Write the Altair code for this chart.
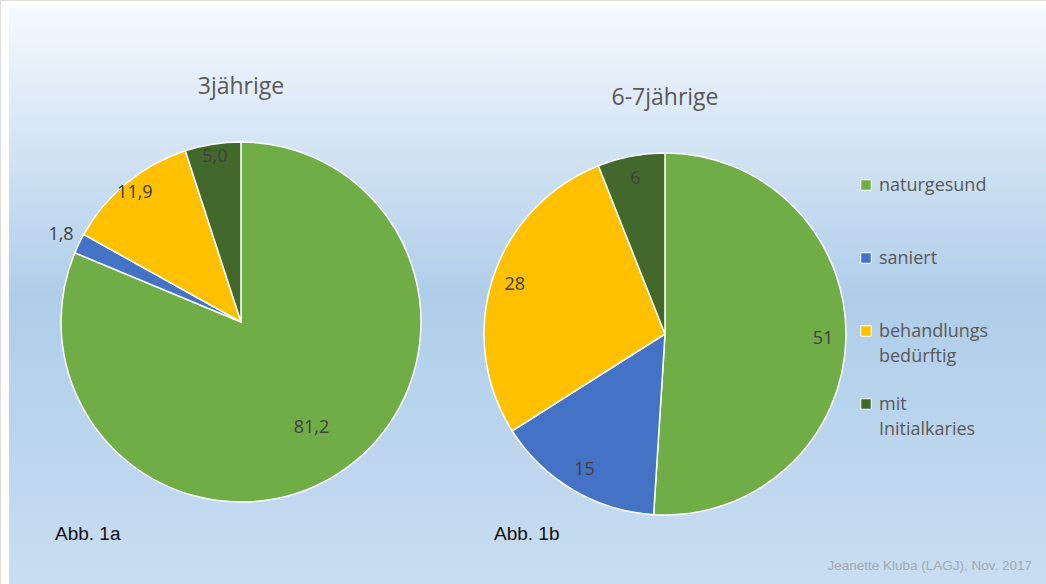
import altair as alt
import pandas as pd

categories = ["naturgesund", "saniert", "behandlungs|bedürftig", "mit|Initialkaries"]
colors = ["#70ad47", "#4472c4", "#ffc000", "#43682b"]
values_3 = [81.2, 1.8, 11.9, 5.0]
labels_3 = ["81,2", "1,8", "11,9", "5,0"]
values_67 = [51, 15, 28, 6]
labels_67 = ["51", "15", "28", "6"]

rows = []
for i, c in enumerate(categories):
    rows.append({"pie": "a", "cat": c, "order": i, "value": values_3[i], "label": labels_3[i]})
for i, c in enumerate(categories):
    rows.append({"pie": "b", "cat": c, "order": i, "value": values_67[i], "label": labels_67[i]})
df = pd.DataFrame(rows)
legend_df = pd.DataFrame({"cat": categories})

W, H = 1046, 584
FONT = "Open Sans"

bg = alt.Chart(pd.DataFrame({"d": [0]})).mark_rect(
    fill=alt.Gradient(
        gradient="linear",
        stops=[
            alt.GradientStop(color="#f5f9fe", offset=0),
            alt.GradientStop(color="#afcde9", offset=0.5),
            alt.GradientStop(color="#c8ddf1", offset=1),
        ],
        x1=0, x2=0, y1=0, y2=1,
    )
).encode(x=alt.value(9), x2=alt.value(W), y=alt.value(8), y2=alt.value(H))

color_enc = alt.Color(
    "cat:N",
    scale=alt.Scale(domain=categories, range=colors),
    legend=None,
)


def pie(key, cx, cy, r, rad_expr):
    base = alt.Chart(df).transform_filter(alt.datum.pie == key)
    arcs = base.mark_arc(outerRadius=r, stroke="white", strokeWidth=1.5).encode(
        theta=alt.Theta("value:Q", stack="normalize"),
        order=alt.Order("order:Q"),
        color=color_enc,
        x=alt.value(cx),
        y=alt.value(cy),
    )
    text = (
        base.transform_joinaggregate(total="sum(value)")
        .transform_window(cum="sum(value)", sort=[alt.SortField("order")])
        .transform_calculate(
            ang="(datum.cum - datum.value / 2) / datum.total * 2 * PI",
            lr=rad_expr,
        )
        .mark_text(font=FONT, fontSize=18, color="#404040")
        .encode(
            theta=alt.Theta("ang:Q", scale=None),
            radius=alt.Radius("lr:Q", scale=None),
            text="label:N",
            x=alt.value(cx),
            y=alt.value(cy),
        )
    )
    return arcs, text


a_arcs, a_text = pie("a", 241, 322, 180, "datum.value > 50 ? 127 : (datum.value < 3 ? 200 : 167)")
b_arcs, b_text = pie("b", 665, 334, 181, "158")

leg_y = alt.Y("cat:N", sort=categories,
              scale=alt.Scale(type="point", domain=categories, range=[185, 404], padding=0),
              axis=None)
leg_sym = alt.Chart(legend_df).mark_square(size=110, stroke="white", strokeWidth=1, opacity=1).encode(
    x=alt.value(866), y=leg_y, color=color_enc
)
leg_txt = alt.Chart(legend_df).mark_text(
    font=FONT, fontSize=18, color="#595959", align="left", baseline="top",
    lineBreak="|", lineHeight=25, dy=-8
).encode(x=alt.value(879), y=leg_y, text="cat:N")


def label(txt, x, y, size, color, font, align="center", weight="normal"):
    return alt.Chart(pd.DataFrame({"t": [txt]})).mark_text(
        font=font, fontSize=size, color=color, align=align, baseline="middle", fontWeight=weight
    ).encode(text="t:N", x=alt.value(x), y=alt.value(y))


t1 = label("3jährige", 241, 87, 23, "#595959", FONT)
t2 = label("6-7jährige", 665, 98, 23, "#595959", FONT)
abb1 = label("Abb. 1a", 55, 534, 19, "#111111", "Liberation Sans", align="left")
abb2 = label("Abb. 1b", 494, 534, 19, "#111111", "Liberation Sans", align="left")
credit = label("Jeanette Kluba  (LAGJ), Nov. 2017", 1032, 566, 13.5, "#a3a9b0", "Liberation Sans", align="right")

chart = alt.layer(
    bg, a_arcs, a_text, b_arcs, b_text, leg_sym, leg_txt, t1, t2, abb1, abb2, credit
).properties(
    width=W, height=H, padding=0, autosize=alt.AutoSizeParams(type="none")
).configure_view(stroke=None).configure(background="white")

chart.save("out.html", embed_options={"renderer": "svg", "actions": False})
